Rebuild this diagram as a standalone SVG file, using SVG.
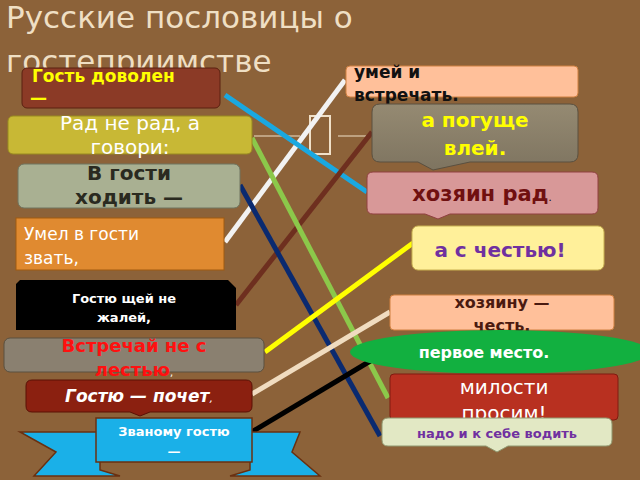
<svg xmlns="http://www.w3.org/2000/svg" width="640" height="480" viewBox="0 0 640 480">
<style>
text{font-family:"DejaVu Sans","Noto Sans",sans-serif}
.b{font-weight:bold}
.ln{stroke-width:5;fill:none}
</style>
<rect width="640" height="480" fill="#8c6239"/>
<g id="title"><text x="6" y="28" font-size="31" fill="#efdfc4">Русские пословицы о</text><text x="6" y="72" font-size="31" fill="#efdfc4">гостеприимстве</text></g>
<g id="tofu" stroke="#f0e0c8" fill="none" stroke-width="2"><rect x="310" y="116" width="20" height="38"/><line x1="254" y1="136" x2="300" y2="136" stroke-width="1"/><line x1="338" y1="136" x2="366" y2="136" stroke-width="1"/></g>
<g id="connectors">
<line class="ln" x1="225" y1="242" x2="345" y2="80" stroke="#f2f2f2"/>
<line class="ln" x1="225" y1="95" x2="367" y2="192" stroke="#1aa8e0"/>
<line class="ln" x1="236" y1="305" x2="372" y2="132" stroke="#6e2f1f"/>
<line class="ln" x1="252" y1="138" x2="388" y2="398" stroke="#8cc84a"/>
<line class="ln" x1="240" y1="185" x2="380" y2="436" stroke="#0a2a70"/>
<line class="ln" x1="265" y1="352" x2="413" y2="243" stroke="#ffff00"/>
<line class="ln" x1="252" y1="394" x2="390" y2="312" stroke="#f0dcc0"/>
<line class="ln" x1="250" y1="433" x2="372" y2="360" stroke="#000"/>
</g>
<g id="n1"><rect x="22" y="68" width="198" height="40" rx="5" fill="#8b3a26" stroke="#5a2010"/><text x="32" y="82" font-size="17" class="b" fill="#ffff00">Гость доволен</text><text x="30" y="104" font-size="17" class="b" fill="#ffff00">—</text></g>
<g id="n2"><rect x="8" y="116" width="244" height="38" rx="5" fill="#c8b835" stroke="#988a20"/><text x="130" y="130" font-size="20" fill="#fff" text-anchor="middle">Рад не рад, а</text><text x="130" y="154" font-size="20" fill="#fff" text-anchor="middle">говори:</text></g>
<g id="n3"><rect x="18" y="164" width="222" height="44" rx="6" fill="#a9b092" stroke="#6e7460"/><text x="129" y="180" font-size="20" class="b" fill="#2a2a20" text-anchor="middle">В гости</text><text x="129" y="204" font-size="20" class="b" fill="#2a2a20" text-anchor="middle">ходить —</text></g>
<g id="n4"><rect x="16" y="218" width="208" height="52" fill="#e08a30" stroke="#a05a10"/><text x="24" y="240" font-size="17" fill="#fff">Умел в гости</text><text x="24" y="264" font-size="17" fill="#fff">звать,</text></g>
<g id="n5"><path d="M20 280 H228 L236 288 V330 H16 V284 Z" fill="#000"/><text x="124" y="303" font-size="13" class="b" fill="#fff" text-anchor="middle">Гостю щей не</text><text x="124" y="322" font-size="13" class="b" fill="#fff" text-anchor="middle">жалей,</text></g>
<g id="n6"><rect x="4" y="338" width="260" height="34" rx="6" fill="#8a8070" stroke="#5a5040"/><text x="134" y="352" font-size="18" class="b" fill="#ff1010" text-anchor="middle">Встречай не с</text><text x="134" y="376" font-size="18" class="b" fill="#ff1010" text-anchor="middle">лестью<tspan fill="#fff" font-size="10" font-weight="normal">,</tspan></text></g>
<g id="n7"><path d="M32 380 H246 Q252 380 252 386 V406 Q252 412 246 412 H150 L140 416 L130 412 H32 Q26 412 26 406 V386 Q26 380 32 380 Z" fill="#8b2010" stroke="#5a1005"/><text x="139" y="402" font-size="17" class="b" font-style="italic" fill="#fff" text-anchor="middle">Гостю — почет<tspan font-size="11" font-weight="normal">,</tspan></text></g>
<g id="n8" stroke="#6a3010" stroke-width="1.5"><path d="M20 432 H100 V470 L120 476 H34 L56 452 Z" fill="#1ab0e8"/><path d="M300 432 H250 V470 L230 476 H320 L292 452 Z" fill="#1ab0e8"/><path d="M96 418 L252 418 L252 462 L96 462 Z" fill="#1ab0e8"/><text x="174" y="436" font-size="13" class="b" fill="#fff" text-anchor="middle" stroke="none">Званому гостю</text><text x="174" y="456" font-size="13" class="b" fill="#fff" text-anchor="middle" stroke="none">—</text></g>
<g id="r1"><rect x="346" y="66" width="232" height="31" rx="4" fill="#ffc09a" stroke="#d08040"/><text x="354" y="78" font-size="17" class="b" fill="#111">умей и</text><text x="354" y="101" font-size="17" class="b" fill="#111">встречать.</text></g>
<g id="r2"><defs><linearGradient id="g2" x1="0" y1="0" x2="0" y2="1"><stop offset="0" stop-color="#958a72"/><stop offset="1" stop-color="#7e7460"/></linearGradient></defs><path d="M380 104 H570 Q578 104 578 112 V154 Q578 162 570 162 H470 L433 170 L418 162 H380 Q372 162 372 154 V112 Q372 104 380 104 Z" fill="url(#g2)" stroke="#5a5040"/><text x="475" y="127" font-size="20" class="b" fill="#ffff00" text-anchor="middle">а погуще</text><text x="475" y="155" font-size="20" class="b" fill="#ffff00" text-anchor="middle">влей.</text></g>
<g id="r3"><path d="M373 172 H592 Q598 172 598 178 V208 Q598 214 592 214 H450 L438 219 L425 214 H373 Q367 214 367 208 V178 Q367 172 373 172 Z" fill="#d89898" stroke="#904040"/><text x="482" y="201" font-size="21" class="b" fill="#701010" text-anchor="middle">хозяин рад<tspan font-size="10" font-weight="normal" fill="#000">.</tspan></text></g>
<g id="r4"><rect x="412" y="226" width="192" height="44" rx="6" fill="#fff09a" stroke="#c8b050"/><text x="500" y="257" font-size="20" class="b" fill="#7030a0" text-anchor="middle">а с честью!</text></g>
<g id="r5"><rect x="390" y="295" width="224" height="35" rx="4" fill="#ffc09a" stroke="#d08040"/><text x="502" y="308" font-size="16" class="b" fill="#4a1a10" text-anchor="middle">хозяину —</text><text x="502" y="331" font-size="16" class="b" fill="#4a1a10" text-anchor="middle">честь.</text></g>
<g id="r6"><ellipse cx="500" cy="352" rx="150" ry="22" fill="#12b040"/><text x="484" y="358" font-size="16" class="b" fill="#fff" text-anchor="middle">первое место.</text></g>
<g id="r7"><rect x="390" y="374" width="228" height="46" rx="4" fill="#b83020" stroke="#801a10"/><text x="504" y="394" font-size="20" fill="#fff" text-anchor="middle">милости</text><text x="504" y="420" font-size="20" fill="#fff" text-anchor="middle">просим!</text></g>
<g id="r8"><path d="M388 418 H606 Q612 418 612 424 V440 Q612 446 606 446 H508 L497 452 L486 446 H388 Q382 446 382 440 V424 Q382 418 388 418 Z" fill="#e2e8c4" stroke="#909870"/><text x="497" y="438" font-size="13" class="b" fill="#7030a0" text-anchor="middle">надо и к себе водить</text></g>
</svg>
